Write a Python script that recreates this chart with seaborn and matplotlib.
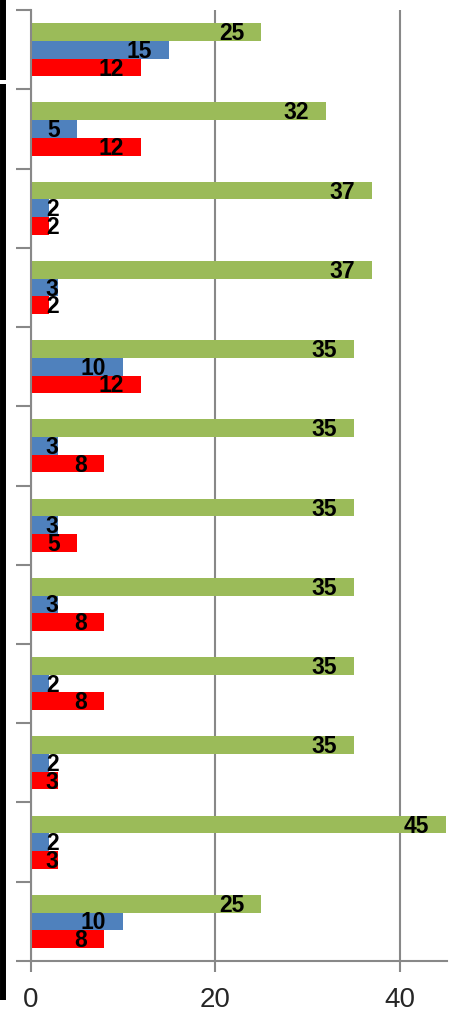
import numpy as np
import pandas as pd
import matplotlib.pyplot as plt
from matplotlib.lines import Line2D
import seaborn as sns

sns.set_style('white')
plt.rcParams['font.family'] = ['Liberation Sans', 'DejaVu Sans']

# %% Data (groups listed top to bottom)
groups = [str(i) for i in range(1, 13)]
green_vals = [25, 32, 37, 37, 35, 35, 35, 35, 35, 35, 45, 25]
blue_vals = [15, 5, 2, 3, 10, 3, 3, 3, 2, 2, 2, 10]
red_vals = [12, 12, 2, 2, 12, 8, 5, 8, 8, 3, 3, 8]
series = ['green', 'blue', 'red']
colors = ['#9BBB59', '#4F81BD', '#FF0000']

df = pd.DataFrame({
    'group': groups * 3,
    'series': [s for s in series for _ in groups],
    'value': green_vals + blue_vals + red_vals,
})

# %% Plot
fig = plt.figure(figsize=(4.59, 10.14), dpi=100)
ax = fig.add_axes([0.0665, 0.0523, 0.9075, 0.9377])

sns.barplot(data=df, y='group', x='value', hue='series', order=groups,
            hue_order=series, palette=colors, orient='h', width=0.67,
            saturation=1, linewidth=0, legend=False, ax=ax)

ax.set_xlim(0, 45.1)
ax.set_ylim(11.5, -0.5)
ax.set_xticks([0, 20, 40])
ax.set_yticks(np.arange(-0.5, 12, 1))
ax.set_yticklabels([])
ax.set_xlabel('')
ax.set_ylabel('')
ax.grid(axis='x', color='#888888', linewidth=1.5)
ax.set_axisbelow(True)
for side in ['top', 'right']:
    ax.spines[side].set_visible(False)
for side in ['left', 'bottom']:
    ax.spines[side].set_color('#888888')
    ax.spines[side].set_linewidth(1.5)
ax.tick_params(axis='y', direction='out', length=11, width=1.5, color='#888888', left=True)
ax.tick_params(axis='x', direction='out', length=8, width=1.5, color='#888888',
               bottom=True, labelsize=20, pad=11)

# data labels: right end inside the bar, pushed right for short bars
for cont in ax.containers:
    for bar in cont:
        v = bar.get_width()
        yc = bar.get_y() + bar.get_height() / 2 + 0.02
        if v >= 5:
            ax.text(v - 1.85, yc, f'{v:g}', ha='right', va='center',
                    fontsize=16.5, fontweight='bold', color='black')
        else:
            ax.text(1.65, yc, f'{v:g}', ha='left', va='center',
                    fontsize=16.5, fontweight='bold', color='black')

# black edge line at the far left of the picture
fig.add_artist(Line2D([0.0076, 0.0076], [1.0, 0.921], color='black', lw=4.3,
                      solid_capstyle='butt', transform=fig.transFigure))
fig.add_artist(Line2D([0.0076, 0.0076], [0.917, 0.014], color='black', lw=4.3,
                      solid_capstyle='butt', transform=fig.transFigure))

plt.savefig('out.png', dpi=100)
